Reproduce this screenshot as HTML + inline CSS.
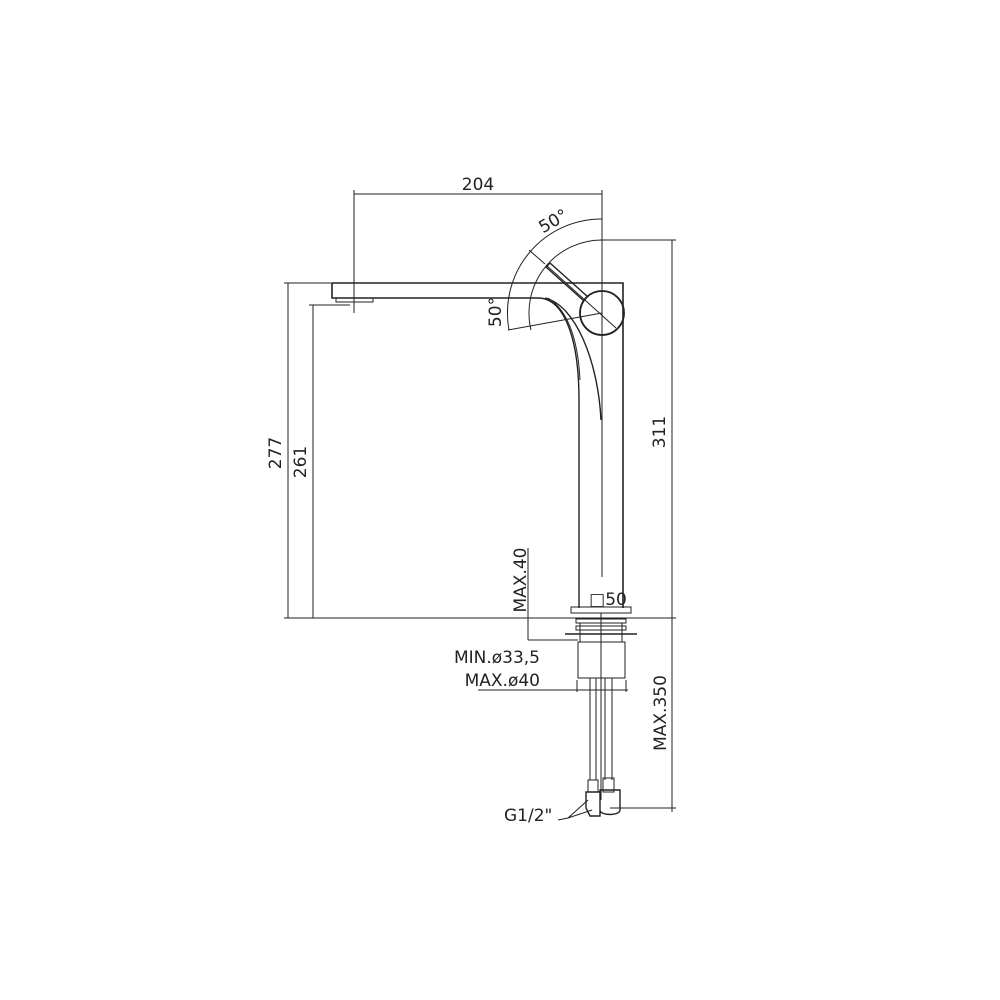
<!DOCTYPE html>
<html><head><style>body{margin:0;background:#fff}svg{display:block}text{font-family:"DejaVu Sans","Liberation Sans",sans-serif;fill:#222}</style></head>
<body>
<svg width="1000" height="1000" viewBox="0 0 1000 1000" xmlns="http://www.w3.org/2000/svg" fill="none" stroke="#222" stroke-width="1">
<line x1="354" y1="194" x2="602" y2="194"/>
<line x1="354" y1="190" x2="354" y2="313"/>
<line x1="602" y1="190" x2="602" y2="577"/>
<text x="478" y="190" font-size="17" text-anchor="middle" stroke="none">204</text>
<path d="M332 283 L623 283 L623 608" stroke-width="1.6"/>
<path d="M332 283 L332 298 L540 298" stroke-width="1.6"/>
<path d="M336 298 L336 302 L373 302 L373 298"/>
<path d="M540 298 C565 300 579 340 579 400 L579 608" stroke-width="1.4"/>
<path d="M545 298 C575 305 598 360 601 420" stroke-width="1.4"/>
<path d="M548 298 C568 310 578 340 580 380"/>
<circle cx="602" cy="313" r="22" stroke-width="1.8"/>
<path d="M546 267 L584 301 M550 263 L588 297 M546 267 L550 263" stroke-width="1.4"/>
<line x1="546" y1="265" x2="616" y2="328"/>
<path d="M602 219 A94 94 0 0 0 509 330"/>
<path d="M602 240 A73 73 0 0 0 531 330"/>
<line x1="529" y1="250" x2="545" y2="264"/>
<line x1="508" y1="330" x2="602" y2="313"/>
<text font-size="17" stroke="none" transform="translate(556 226) rotate(-30)" text-anchor="middle">50°</text>
<text font-size="17" stroke="none" transform="translate(501 312) rotate(-90)" text-anchor="middle">50°</text>
<line x1="600" y1="240" x2="676" y2="240"/>
<line x1="672" y1="240" x2="672" y2="812"/>
<text font-size="17" stroke="none" transform="translate(665 432) rotate(-90)" text-anchor="middle">311</text>
<line x1="284" y1="618" x2="676" y2="618"/>
<line x1="284" y1="283" x2="332" y2="283"/>
<line x1="288" y1="283" x2="288" y2="618"/>
<line x1="309" y1="305" x2="350" y2="305"/>
<line x1="313" y1="305" x2="313" y2="618"/>
<text font-size="17" stroke="none" transform="translate(281 453) rotate(-90)" text-anchor="middle">277</text>
<text font-size="17" stroke="none" transform="translate(306 462) rotate(-90)" text-anchor="middle">261</text>
<rect x="571" y="607" width="60" height="6"/>
<text x="608" y="605" font-size="17" stroke="none" text-anchor="middle">□50</text>
<rect x="576" y="619" width="50" height="4"/>
<rect x="576" y="626" width="50" height="4"/>
<line x1="565" y1="634" x2="637" y2="634" stroke-width="1.4"/>
<line x1="580" y1="623" x2="580" y2="642"/><line x1="622" y1="623" x2="622" y2="642"/>
<rect x="578" y="642" width="47" height="36"/>
<line x1="601" y1="613" x2="601" y2="800"/>
<path d="M590 678 L590 780 M596 678 L596 780 M605 678 L605 780 M612 678 L612 780"/>
<path d="M588 780 h10 v12 h-10z M603 778 h11 v14 h-11z"/>
<path d="M586 792 l14 0 l0 24 l-10 0 l-4 -8z M600 790 h20 v20 c0 6 -20 6 -20 0z" stroke-width="1.4"/>
<line x1="528" y1="548" x2="528" y2="640"/>
<line x1="528" y1="640" x2="578" y2="640"/>
<text font-size="17" stroke="none" transform="translate(526 580) rotate(-90)" text-anchor="middle">MAX.40</text>
<text x="540" y="663" font-size="17" stroke="none" text-anchor="end">MIN.ø33,5</text>
<text x="540" y="686" font-size="17" stroke="none" text-anchor="end">MAX.ø40</text>
<line x1="478" y1="690" x2="628" y2="690"/>
<line x1="577" y1="680" x2="577" y2="692"/><line x1="626" y1="680" x2="626" y2="692"/>
<line x1="610" y1="808" x2="676" y2="808"/>
<text font-size="17" stroke="none" transform="translate(666 713) rotate(-90)" text-anchor="middle">MAX.350</text>
<text x="504" y="821" font-size="17" stroke="none">G1/2"</text>
<path d="M558 820 L568 818 L588 800 M568 818 L592 810"/>
</svg>
</body></html>
